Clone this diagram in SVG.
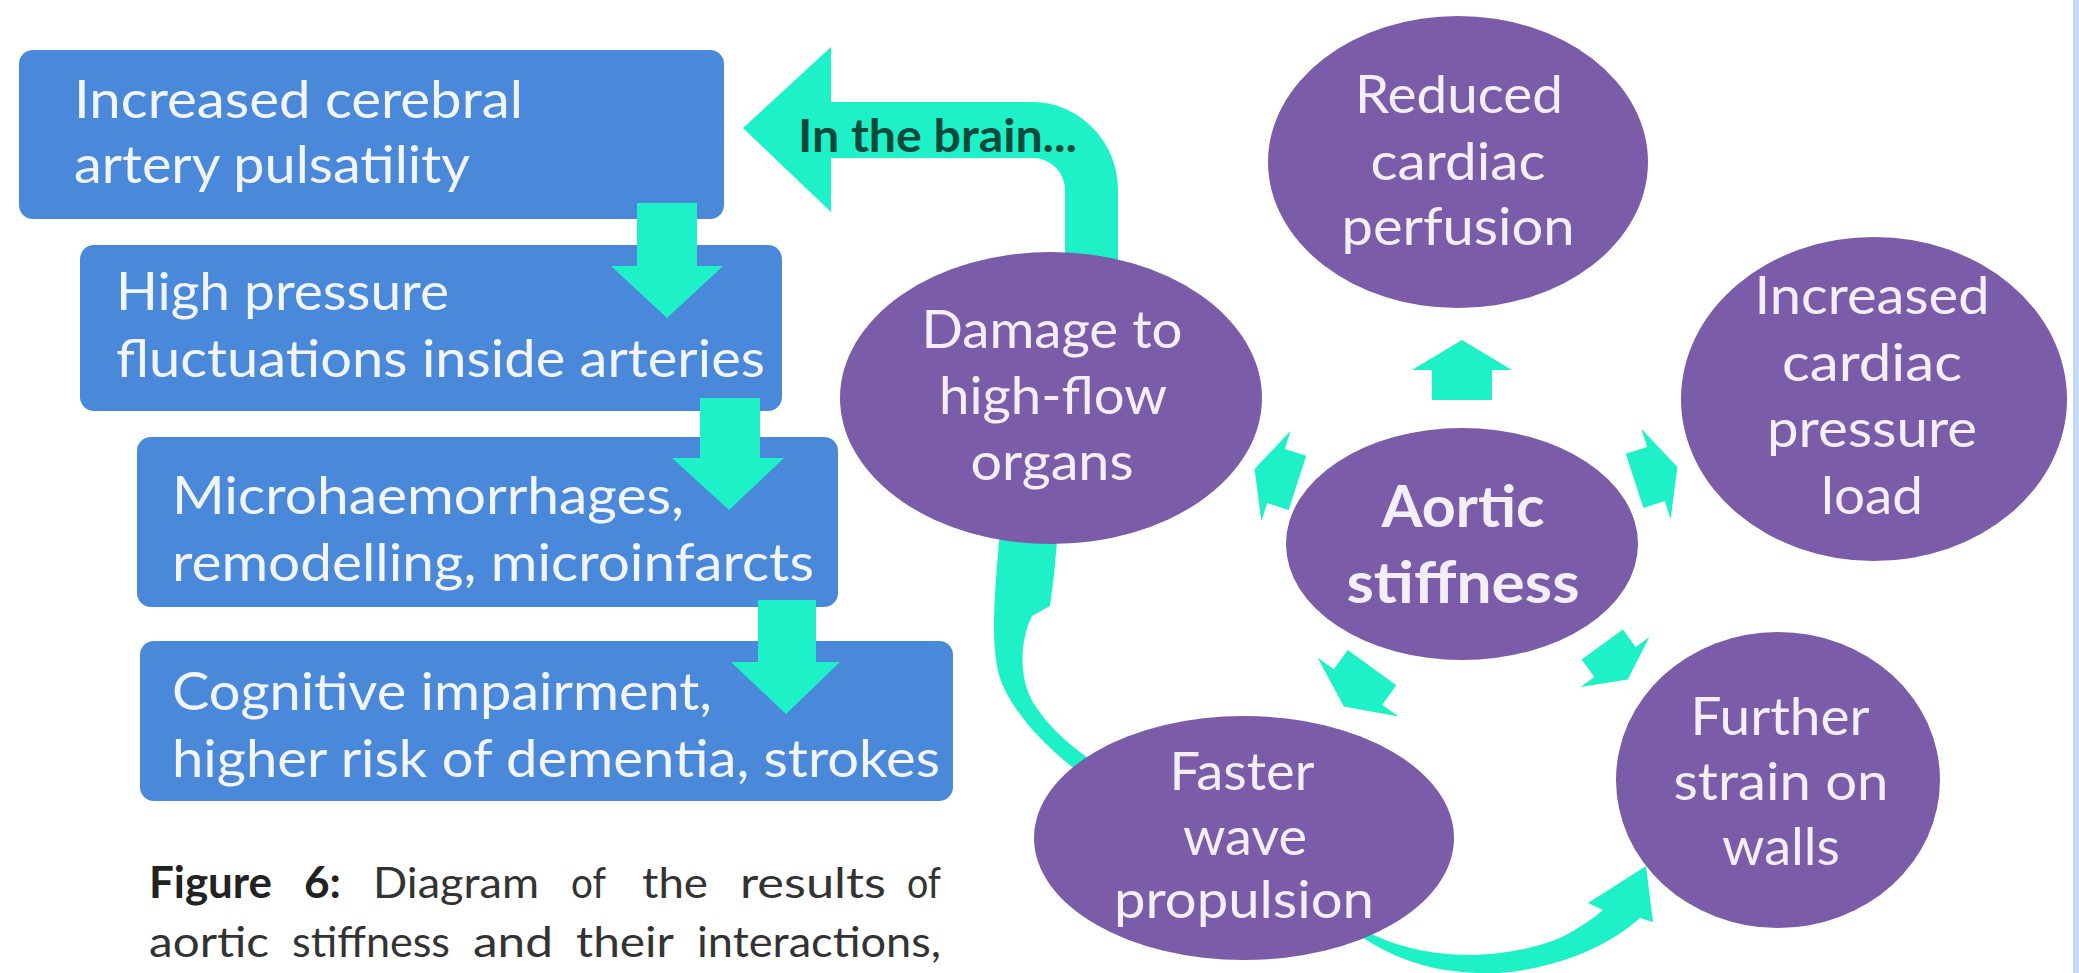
<svg xmlns="http://www.w3.org/2000/svg" width="2079" height="973" viewBox="0 0 2079 973">
<style>
.box{fill:#4a89da}
.ell{fill:#7b5ca8}
.arr{fill:#1ef0c8}
text{font-family:Lato,"Open Sans","Liberation Sans",sans-serif}
.bt{font-size:53px;fill:#f2f5ff}
.et{font-size:53px;fill:#f4eef9;text-anchor:middle}
.at{font-size:58px;font-weight:bold;fill:#f4eef9;text-anchor:middle}
.brain{font-size:45px;font-weight:bold;fill:#0b4a3a}
.cap{font-size:43px;fill:#333333}
.capb{font-size:43px;fill:#222222;font-weight:bold}
</style>
<defs>
<path id="sa" d="M0,-30 L50,0 L30,0 L30,30 L-30,30 L-30,0 L-50,0 Z"/>
</defs>
<rect x="0" y="0" width="2079" height="973" fill="#ffffff"/>
<rect x="2073" y="0" width="6" height="973" fill="#c6d9f4"/>

<g id="box1"><rect class="box" x="19" y="50" width="705" height="169" rx="14"/>
<text class="bt" x="74" y="118" textLength="449" lengthAdjust="spacingAndGlyphs">Increased cerebral</text>
<text class="bt" x="74" y="183" textLength="396" lengthAdjust="spacingAndGlyphs">artery pulsatility</text></g>
<g id="box2"><rect class="box" x="80" y="245" width="702" height="166" rx="14"/>
<text class="bt" x="116" y="310" textLength="333" lengthAdjust="spacingAndGlyphs">High pressure</text>
<text class="bt" x="116" y="377" textLength="649" lengthAdjust="spacingAndGlyphs">fluctuations inside arteries</text></g>
<g id="box3"><rect class="box" x="137" y="437" width="701" height="170" rx="14"/>
<text class="bt" x="172" y="514" textLength="512" lengthAdjust="spacingAndGlyphs">Microhaemorrhages,</text>
<text class="bt" x="172" y="581" textLength="642" lengthAdjust="spacingAndGlyphs">remodelling, microinfarcts</text></g>
<g id="box4"><rect class="box" x="140" y="641" width="813" height="160" rx="14"/>
<text class="bt" x="172" y="710" textLength="540" lengthAdjust="spacingAndGlyphs">Cognitive impairment,</text>
<text class="bt" x="172" y="777" textLength="768" lengthAdjust="spacingAndGlyphs">higher risk of dementia, strokes</text></g>

<g id="connectors">
<path class="arr" d="M637,203 L697,203 L697,266 L723,266 L667,318 L611,266 L637,266 Z"/>
<path class="arr" d="M700,398 L760,398 L760,458 L784,458 L729,510 L672,458 L700,458 Z"/>
<path class="arr" d="M758,600 L816,600 L816,662 L840,662 L786,714 L731,662 L758,662 Z"/>
<path class="arr" d="M743,128 L831,47 L831,102 L1033,102 A86,88 0 0 1 1118,190 L1118,285 L1065,285 L1065,190 A32,32 0 0 0 1033,158 L831,158 L831,212 Z"/>
<path class="arr" d="M1000,530 L1058,530 L1054,575 L1050,606 L1032,616 C1020,640 1018,678 1034,704 C1048,726 1066,742 1088,758 L1076,770 C1050,750 1010,712 999,675 C990,640 995,590 1000,530 Z"/>
<path class="arr" d="M1360,928 C1420,962 1500,962 1560,938 C1580,928 1595,917 1603,910 L1588,903 L1646,866 L1653,922 L1640,918 C1610,945 1560,968 1500,973 C1440,975 1400,962 1360,936 Z"/>
<use href="#sa" class="arr" transform="translate(1462,370)"/>
<use href="#sa" class="arr" transform="translate(1276,476) rotate(-72) scale(0.95,0.75)"/>
<use href="#sa" class="arr" transform="translate(1656,474) rotate(72) scale(0.95,0.75)"/>
<use href="#sa" class="arr" transform="translate(1358,687) rotate(-144) scale(1,0.8)"/>
<use href="#sa" class="arr" transform="translate(1615,662) rotate(144) scale(0.85,0.72)"/>
<text class="brain" x="798" y="152" textLength="279" lengthAdjust="spacingAndGlyphs">In the brain...</text>
</g>

<g id="reduced"><ellipse class="ell" cx="1458" cy="162" rx="190" ry="146"/>
<text class="et" x="1459" y="113" textLength="208" lengthAdjust="spacingAndGlyphs">Reduced</text>
<text class="et" x="1458" y="180" textLength="175" lengthAdjust="spacingAndGlyphs">cardiac</text>
<text class="et" x="1458" y="245" textLength="233" lengthAdjust="spacingAndGlyphs">perfusion</text></g>
<g id="increased"><ellipse class="ell" cx="1874" cy="399" rx="193" ry="162"/>
<text class="et" x="1872" y="314" textLength="235" lengthAdjust="spacingAndGlyphs">Increased</text>
<text class="et" x="1872" y="381" textLength="180" lengthAdjust="spacingAndGlyphs">cardiac</text>
<text class="et" x="1872" y="447" textLength="210" lengthAdjust="spacingAndGlyphs">pressure</text>
<text class="et" x="1872" y="514" textLength="102" lengthAdjust="spacingAndGlyphs">load</text></g>
<g id="damage"><ellipse class="ell" cx="1051" cy="398" rx="211" ry="146"/>
<text class="et" x="1052" y="348" textLength="261" lengthAdjust="spacingAndGlyphs">Damage to</text>
<text class="et" x="1053" y="414" textLength="228" lengthAdjust="spacingAndGlyphs">high-flow</text>
<text class="et" x="1052" y="480" textLength="163" lengthAdjust="spacingAndGlyphs">organs</text></g>
<g id="aortic"><ellipse class="ell" cx="1462" cy="544" rx="176" ry="116"/>
<text class="at" x="1463" y="527" textLength="163" lengthAdjust="spacingAndGlyphs">Aortic</text>
<text class="at" x="1463" y="603" textLength="233" lengthAdjust="spacingAndGlyphs">stiffness</text></g>
<g id="faster"><ellipse class="ell" cx="1244" cy="838" rx="210" ry="122"/>
<text class="et" x="1242" y="790" textLength="145" lengthAdjust="spacingAndGlyphs">Faster</text>
<text class="et" x="1245" y="855" textLength="124" lengthAdjust="spacingAndGlyphs">wave</text>
<text class="et" x="1244" y="918" textLength="260" lengthAdjust="spacingAndGlyphs">propulsion</text></g>
<g id="further"><ellipse class="ell" cx="1778" cy="780" rx="162" ry="148"/>
<text class="et" x="1780" y="735" textLength="179" lengthAdjust="spacingAndGlyphs">Further</text>
<text class="et" x="1781" y="800" textLength="215" lengthAdjust="spacingAndGlyphs">strain on</text>
<text class="et" x="1781" y="865" textLength="118" lengthAdjust="spacingAndGlyphs">walls</text></g>

<g id="caption">
<text class="capb" x="149" y="898" textLength="123" lengthAdjust="spacingAndGlyphs">Figure</text>
<text class="capb" x="304" y="898" textLength="37" lengthAdjust="spacingAndGlyphs">6:</text>
<text class="cap" x="373" y="898" textLength="166" lengthAdjust="spacingAndGlyphs">Diagram</text>
<text class="cap" x="571" y="898" textLength="35" lengthAdjust="spacingAndGlyphs">of</text>
<text class="cap" x="642" y="898" textLength="66" lengthAdjust="spacingAndGlyphs">the</text>
<text class="cap" x="740" y="898" textLength="146" lengthAdjust="spacingAndGlyphs">results</text>
<text class="cap" x="907" y="898" textLength="34" lengthAdjust="spacingAndGlyphs">of</text>
<text class="cap" x="149" y="957" textLength="120" lengthAdjust="spacingAndGlyphs">aortic</text>
<text class="cap" x="292" y="957" textLength="158" lengthAdjust="spacingAndGlyphs">stiffness</text>
<text class="cap" x="473" y="957" textLength="80" lengthAdjust="spacingAndGlyphs">and</text>
<text class="cap" x="576" y="957" textLength="98" lengthAdjust="spacingAndGlyphs">their</text>
<text class="cap" x="697" y="957" textLength="244" lengthAdjust="spacingAndGlyphs">interactions,</text>
</g>
</svg>
